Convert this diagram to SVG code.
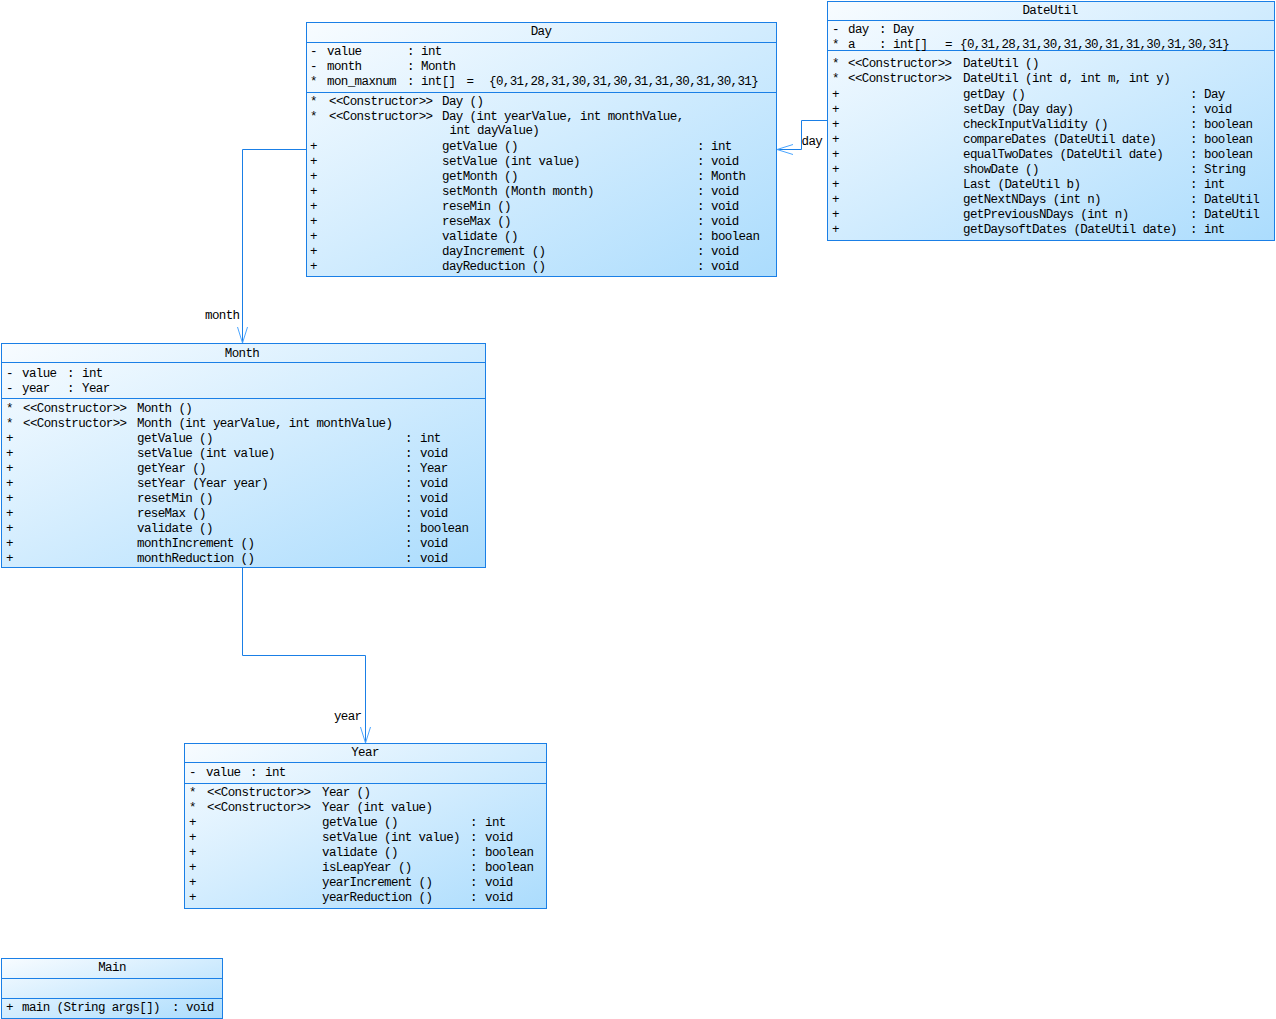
<svg xmlns="http://www.w3.org/2000/svg" width="1276" height="1019" viewBox="0 0 1276 1019">
<defs>
<linearGradient id="g" x1="0" y1="0" x2="1" y2="1">
<stop offset="0" stop-color="#f8fcff"/>
<stop offset="1" stop-color="#abdcfd"/>
</linearGradient>
<style>
.box{fill:url(#g);stroke:#1a7fe6;stroke-width:1}
.sep{stroke:#1a7fe6;stroke-width:1}
text{font-family:"Liberation Mono","DejaVu Sans Mono",monospace;font-size:12.5px;letter-spacing:-0.6px;fill:#000}
.ttl{text-anchor:middle}
.end{text-anchor:end}
.conn{fill:none;stroke:#1a7fe6;stroke-width:1}
.arr{fill:none;stroke:#4aa5ff;stroke-width:1}
</style>
</defs>
<rect width="1276" height="1019" fill="#ffffff"/>

<g id="connectors">
<polyline class="conn" points="827,120.5 801.5,120.5 801.5,149.5 777,149.5"/>
<polyline class="arr" points="793,144.5 777,149.5 793,154.5"/>
<rect x="802" y="134" width="20" height="14" fill="#ffffff"/>
<text x="801.5" y="145">day</text>
<polyline class="conn" points="306,149.5 242.5,149.5 242.5,343"/>
<polyline class="arr" points="237.5,327 242.5,343 247.5,327"/>
<text class="end" x="239.5" y="319">month</text>
<polyline class="conn" points="242.5,568 242.5,655.5 365.5,655.5 365.5,743"/>
<polyline class="arr" points="360.5,727 365.5,743 370.5,727"/>
<text class="end" x="361.5" y="720">year</text>
</g>

<g id="Day">
<rect class="box" x="306.5" y="22.5" width="470" height="254"/>
<line class="sep" x1="306.5" y1="42.5" x2="776.5" y2="42.5"/>
<line class="sep" x1="306.5" y1="92.5" x2="776.5" y2="92.5"/>
<text class="ttl" x="541" y="35">Day</text>
<text x="310" y="55">-</text><text x="327" y="55">value</text><text x="407" y="55">:</text><text x="421" y="55">int</text>
<text x="310" y="70">-</text><text x="327" y="70">month</text><text x="407" y="70">:</text><text x="421" y="70">Month</text>
<text x="310" y="85">*</text><text x="327" y="85">mon_maxnum</text><text x="407" y="85">:</text><text x="421" y="85">int[]</text><text x="466.5" y="85">=</text><text x="489" y="85">{0,31,28,31,30,31,30,31,31,30,31,30,31}</text>
<text x="310" y="105">*</text><text x="329" y="105">&lt;&lt;Constructor&gt;&gt;</text><text x="442" y="105">Day ()</text>
<text x="310" y="120">*</text><text x="329" y="120">&lt;&lt;Constructor&gt;&gt;</text><text x="442" y="120">Day (int yearValue, int monthValue,</text>
<text x="449.5" y="134">int dayValue)</text>
<text x="310" y="150">+</text><text x="442" y="150">getValue ()</text><text x="697" y="150">:</text><text x="711" y="150">int</text>
<text x="310" y="165">+</text><text x="442" y="165">setValue (int value)</text><text x="697" y="165">:</text><text x="711" y="165">void</text>
<text x="310" y="180">+</text><text x="442" y="180">getMonth ()</text><text x="697" y="180">:</text><text x="711" y="180">Month</text>
<text x="310" y="195">+</text><text x="442" y="195">setMonth (Month month)</text><text x="697" y="195">:</text><text x="711" y="195">void</text>
<text x="310" y="210">+</text><text x="442" y="210">reseMin ()</text><text x="697" y="210">:</text><text x="711" y="210">void</text>
<text x="310" y="225">+</text><text x="442" y="225">reseMax ()</text><text x="697" y="225">:</text><text x="711" y="225">void</text>
<text x="310" y="240">+</text><text x="442" y="240">validate ()</text><text x="697" y="240">:</text><text x="711" y="240">boolean</text>
<text x="310" y="255">+</text><text x="442" y="255">dayIncrement ()</text><text x="697" y="255">:</text><text x="711" y="255">void</text>
<text x="310" y="270">+</text><text x="442" y="270">dayReduction ()</text><text x="697" y="270">:</text><text x="711" y="270">void</text>
</g>

<g id="DateUtil">
<rect class="box" x="827.5" y="1.5" width="447" height="239"/>
<line class="sep" x1="827.5" y1="20.5" x2="1274.5" y2="20.5"/>
<line class="sep" x1="827.5" y1="50.5" x2="1274.5" y2="50.5"/>
<text class="ttl" x="1050" y="14">DateUtil</text>
<text x="832" y="33">-</text><text x="848" y="33">day</text><text x="879" y="33">:</text><text x="893" y="33">Day</text>
<text x="832" y="48">*</text><text x="848" y="48">a</text><text x="879" y="48">:</text><text x="893" y="48">int[]</text><text x="945" y="48">=</text><text x="960" y="48">{0,31,28,31,30,31,30,31,31,30,31,30,31}</text>
<text x="832" y="67">*</text><text x="848" y="67">&lt;&lt;Constructor&gt;&gt;</text><text x="963" y="67">DateUtil ()</text>
<text x="832" y="82">*</text><text x="848" y="82">&lt;&lt;Constructor&gt;&gt;</text><text x="963" y="82">DateUtil (int d, int m, int y)</text>
<text x="832" y="98">+</text><text x="963" y="98">getDay ()</text><text x="1190" y="98">:</text><text x="1204" y="98">Day</text>
<text x="832" y="113">+</text><text x="963" y="113">setDay (Day day)</text><text x="1190" y="113">:</text><text x="1204" y="113">void</text>
<text x="832" y="128">+</text><text x="963" y="128">checkInputValidity ()</text><text x="1190" y="128">:</text><text x="1204" y="128">boolean</text>
<text x="832" y="143">+</text><text x="963" y="143">compareDates (DateUtil date)</text><text x="1190" y="143">:</text><text x="1204" y="143">boolean</text>
<text x="832" y="158">+</text><text x="963" y="158">equalTwoDates (DateUtil date)</text><text x="1190" y="158">:</text><text x="1204" y="158">boolean</text>
<text x="832" y="173">+</text><text x="963" y="173">showDate ()</text><text x="1190" y="173">:</text><text x="1204" y="173">String</text>
<text x="832" y="188">+</text><text x="963" y="188">Last (DateUtil b)</text><text x="1190" y="188">:</text><text x="1204" y="188">int</text>
<text x="832" y="203">+</text><text x="963" y="203">getNextNDays (int n)</text><text x="1190" y="203">:</text><text x="1204" y="203">DateUtil</text>
<text x="832" y="218">+</text><text x="963" y="218">getPreviousNDays (int n)</text><text x="1190" y="218">:</text><text x="1204" y="218">DateUtil</text>
<text x="832" y="233">+</text><text x="963" y="233">getDaysoftDates (DateUtil date)</text><text x="1190" y="233">:</text><text x="1204" y="233">int</text>
</g>

<g id="Month">
<rect class="box" x="1.5" y="343.5" width="484" height="224"/>
<line class="sep" x1="1.5" y1="362.5" x2="485.5" y2="362.5"/>
<line class="sep" x1="1.5" y1="398.5" x2="485.5" y2="398.5"/>
<text class="ttl" x="242" y="357">Month</text>
<text x="6" y="377">-</text><text x="22" y="377">value</text><text x="67" y="377">:</text><text x="82" y="377">int</text>
<text x="6" y="392">-</text><text x="22" y="392">year</text><text x="67" y="392">:</text><text x="82" y="392">Year</text>
<text x="6" y="412">*</text><text x="23" y="412">&lt;&lt;Constructor&gt;&gt;</text><text x="137" y="412">Month ()</text>
<text x="6" y="427">*</text><text x="23" y="427">&lt;&lt;Constructor&gt;&gt;</text><text x="137" y="427">Month (int yearValue, int monthValue)</text>
<text x="6" y="442">+</text><text x="137" y="442">getValue ()</text><text x="405" y="442">:</text><text x="420" y="442">int</text>
<text x="6" y="457">+</text><text x="137" y="457">setValue (int value)</text><text x="405" y="457">:</text><text x="420" y="457">void</text>
<text x="6" y="472">+</text><text x="137" y="472">getYear ()</text><text x="405" y="472">:</text><text x="420" y="472">Year</text>
<text x="6" y="487">+</text><text x="137" y="487">setYear (Year year)</text><text x="405" y="487">:</text><text x="420" y="487">void</text>
<text x="6" y="502">+</text><text x="137" y="502">resetMin ()</text><text x="405" y="502">:</text><text x="420" y="502">void</text>
<text x="6" y="517">+</text><text x="137" y="517">reseMax ()</text><text x="405" y="517">:</text><text x="420" y="517">void</text>
<text x="6" y="532">+</text><text x="137" y="532">validate ()</text><text x="405" y="532">:</text><text x="420" y="532">boolean</text>
<text x="6" y="547">+</text><text x="137" y="547">monthIncrement ()</text><text x="405" y="547">:</text><text x="420" y="547">void</text>
<text x="6" y="562">+</text><text x="137" y="562">monthReduction ()</text><text x="405" y="562">:</text><text x="420" y="562">void</text>
</g>

<g id="Year">
<rect class="box" x="184.5" y="743.5" width="362" height="165"/>
<line class="sep" x1="184.5" y1="762.5" x2="546.5" y2="762.5"/>
<line class="sep" x1="184.5" y1="783.5" x2="546.5" y2="783.5"/>
<text class="ttl" x="365" y="756">Year</text>
<text x="189" y="776">-</text><text x="206" y="776">value</text><text x="250" y="776">:</text><text x="265" y="776">int</text>
<text x="189" y="796">*</text><text x="207" y="796">&lt;&lt;Constructor&gt;&gt;</text><text x="322" y="796">Year ()</text>
<text x="189" y="811">*</text><text x="207" y="811">&lt;&lt;Constructor&gt;&gt;</text><text x="322" y="811">Year (int value)</text>
<text x="189" y="826">+</text><text x="322" y="826">getValue ()</text><text x="470" y="826">:</text><text x="485" y="826">int</text>
<text x="189" y="841">+</text><text x="322" y="841">setValue (int value)</text><text x="470" y="841">:</text><text x="485" y="841">void</text>
<text x="189" y="856">+</text><text x="322" y="856">validate ()</text><text x="470" y="856">:</text><text x="485" y="856">boolean</text>
<text x="189" y="871">+</text><text x="322" y="871">isLeapYear ()</text><text x="470" y="871">:</text><text x="485" y="871">boolean</text>
<text x="189" y="886">+</text><text x="322" y="886">yearIncrement ()</text><text x="470" y="886">:</text><text x="485" y="886">void</text>
<text x="189" y="901">+</text><text x="322" y="901">yearReduction ()</text><text x="470" y="901">:</text><text x="485" y="901">void</text>
</g>

<g id="Main">
<rect class="box" x="1.5" y="958.5" width="221" height="60"/>
<line class="sep" x1="1.5" y1="978.5" x2="222.5" y2="978.5"/>
<line class="sep" x1="1.5" y1="998.5" x2="222.5" y2="998.5"/>
<text class="ttl" x="112" y="971">Main</text>
<text x="6" y="1011">+</text><text x="22" y="1011">main (String args[])</text><text x="172" y="1011">:</text><text x="186" y="1011">void</text>
</g>
</svg>
